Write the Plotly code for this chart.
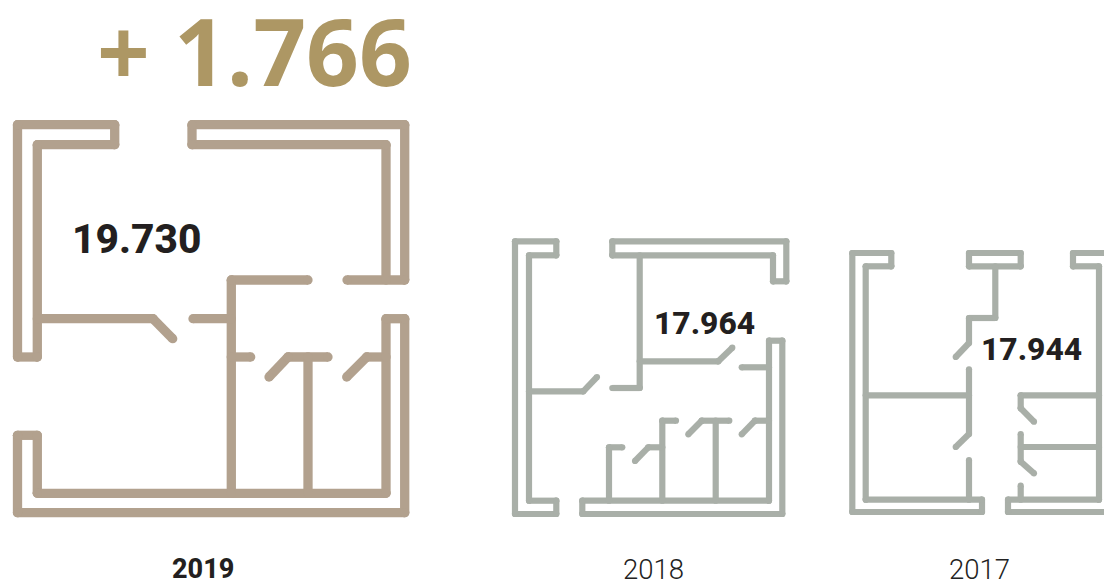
import plotly.graph_objects as go

# Headline figures
years = ["2019", "2018", "2017"]
surface = ["19.730", "17.964", "17.944"]
growth = "+ 1.766"

# Floor plans, one list of wall polylines each, in page pixels
plan_2019 = [
    [(37.3, 357), (17.5, 357), (17.5, 124.7), (114.7, 124.7), (114.7, 144.7), (37.3, 144.7), (37.3, 357)],
    [(347, 280), (404.7, 280), (404.7, 124.7), (192, 124.7), (192, 144.7), (386, 144.7), (386, 280)],
    [(308, 280), (231.3, 280), (231.3, 493.3)],
    [(17.5, 435.3), (37.3, 435.3), (37.3, 493.3), (386, 493.3), (386, 318.7), (404.7, 318.7), (404.7, 512.7), (17.5, 512.7), (17.5, 435.3)],
    [(37.3, 318.7), (153, 318.7), (172.7, 338.7)],
    [(193, 318.7), (231.3, 318.7)],
    [(231.3, 357), (250.7, 357)],
    [(269, 377), (288, 357), (328, 357)],
    [(308, 357), (308, 493.3)],
    [(346.7, 377), (366.7, 357), (386, 357)],
]
plan_2018 = [
    [(556.3, 241.3), (515, 241.3), (515, 514), (556.3, 514), (556.3, 500.7), (529, 500.7), (529, 255.3), (556.3, 255.3), (556.3, 241.3)],
    [(612.3, 241.3), (786.3, 241.3), (786.3, 281.3), (773, 281.3), (773, 255.3), (612.3, 255.3), (612.3, 241.3)],
    [(639.7, 255.3), (639.7, 388), (612.3, 388)],
    [(639.7, 361.3), (718.3, 361.3), (732.3, 347.7)],
    [(529, 391.3), (583.3, 391.3), (597, 377)],
    [(769, 500.7), (769, 340.7), (782.3, 340.7), (782.3, 514), (582.3, 514), (582.3, 500.7), (769, 500.7)],
    [(741.7, 367.3), (769, 367.3)],
    [(622.3, 447.3), (609, 447.3), (609, 500.7)],
    [(676, 420.7), (662.3, 420.7), (662.3, 500.7)],
    [(635, 461), (648.3, 447.3), (662.3, 447.3)],
    [(688.3, 434.3), (701.7, 420.7), (729.3, 420.7)],
    [(715.7, 420.7), (715.7, 500.7)],
    [(741.7, 434.3), (755, 420.7), (769, 420.7)],
]
plan_2017 = [
    [(891.3, 253), (852.3, 253), (852.3, 512), (982, 512), (982, 499.7), (865.7, 499.7), (865.7, 266.3), (891.3, 266.3), (891.3, 253)],
    [(969, 253), (1020.7, 253), (1020.7, 266.3), (969, 266.3), (969, 253)],
    [(995.3, 266.3), (995.3, 318), (969, 318), (969, 343), (955.7, 357)],
    [(969, 369.3), (969, 434), (955.7, 447)],
    [(865.7, 395.3), (969, 395.3)],
    [(969, 460), (969, 499.7)],
    [(1112, 253), (1073, 253), (1073, 266.3), (1099, 266.3), (1099, 499.7), (1008, 499.7), (1008, 512), (1112, 512)],
    [(1099, 395.3), (1020.7, 395.3), (1020.7, 408.3), (1034, 421.7)],
    [(1099, 447), (1020.7, 447)],
    [(1020.7, 434), (1020.7, 461.7), (1034, 473.3)],
    [(1020.7, 485.7), (1020.7, 499.7)],
]

BROWN = "#B2A18E"
GREY = "#A9AFA8"
GOLD = "#AD9764"
INK = "#231F20"


def wall_trace(polylines, color, width):
    xs, ys = [], []
    # Each wall run is drawn as separate segments; the vertex markers then
    # round every end and corner, since no mitre join is left to square them.
    for line in polylines:
        for a, b in zip(line, line[1:]):
            xs += [a[0], b[0], None]
            ys += [a[1], b[1], None]
    return go.Scatter(
        x=xs, y=ys, mode="lines+markers",
        line=dict(color=color, width=width),
        marker=dict(color=color, size=width, line=dict(width=0)),
        hoverinfo="skip", showlegend=False,
    )


fig = go.Figure()
fig.add_trace(wall_trace(plan_2019, BROWN, 9.3))
fig.add_trace(wall_trace(plan_2018, GREY, 6.2))
fig.add_trace(wall_trace(plan_2017, GREY, 6.2))


def label(text, x, y, family, size, color, weight="normal"):
    fig.add_annotation(
        x=x, y=y, text=text, showarrow=False, xanchor="center", yanchor="middle",
        font=dict(family=family, size=size, color=color, weight=weight),
    )


label(growth, 254.5, 50, "Open Sans", 92.5, GOLD, "bold")
label(surface[0], 136, 239, "Roboto", 40.7, INK, 800)
label(surface[1], 704.5, 323, "Roboto", 31.8, INK, 800)
label(surface[2], 1031.5, 349, "Roboto", 31.8, INK, 800)
label(years[0], 203, 569, "Roboto", 27, INK, 800)
label(years[1], 653.5, 569, "Roboto", 27.5, "#222222", 300)
label(years[2], 979, 569, "Roboto", 27.5, "#222222", 300)

fig.update_layout(
    width=1104, height=582,
    margin=dict(l=0, r=0, t=0, b=0),
    paper_bgcolor="white", plot_bgcolor="white",
    xaxis=dict(range=[0, 1104], visible=False, fixedrange=True),
    yaxis=dict(range=[582, 0], visible=False, fixedrange=True),
)

fig.write_html("out.html", config={"displayModeBar": False})
